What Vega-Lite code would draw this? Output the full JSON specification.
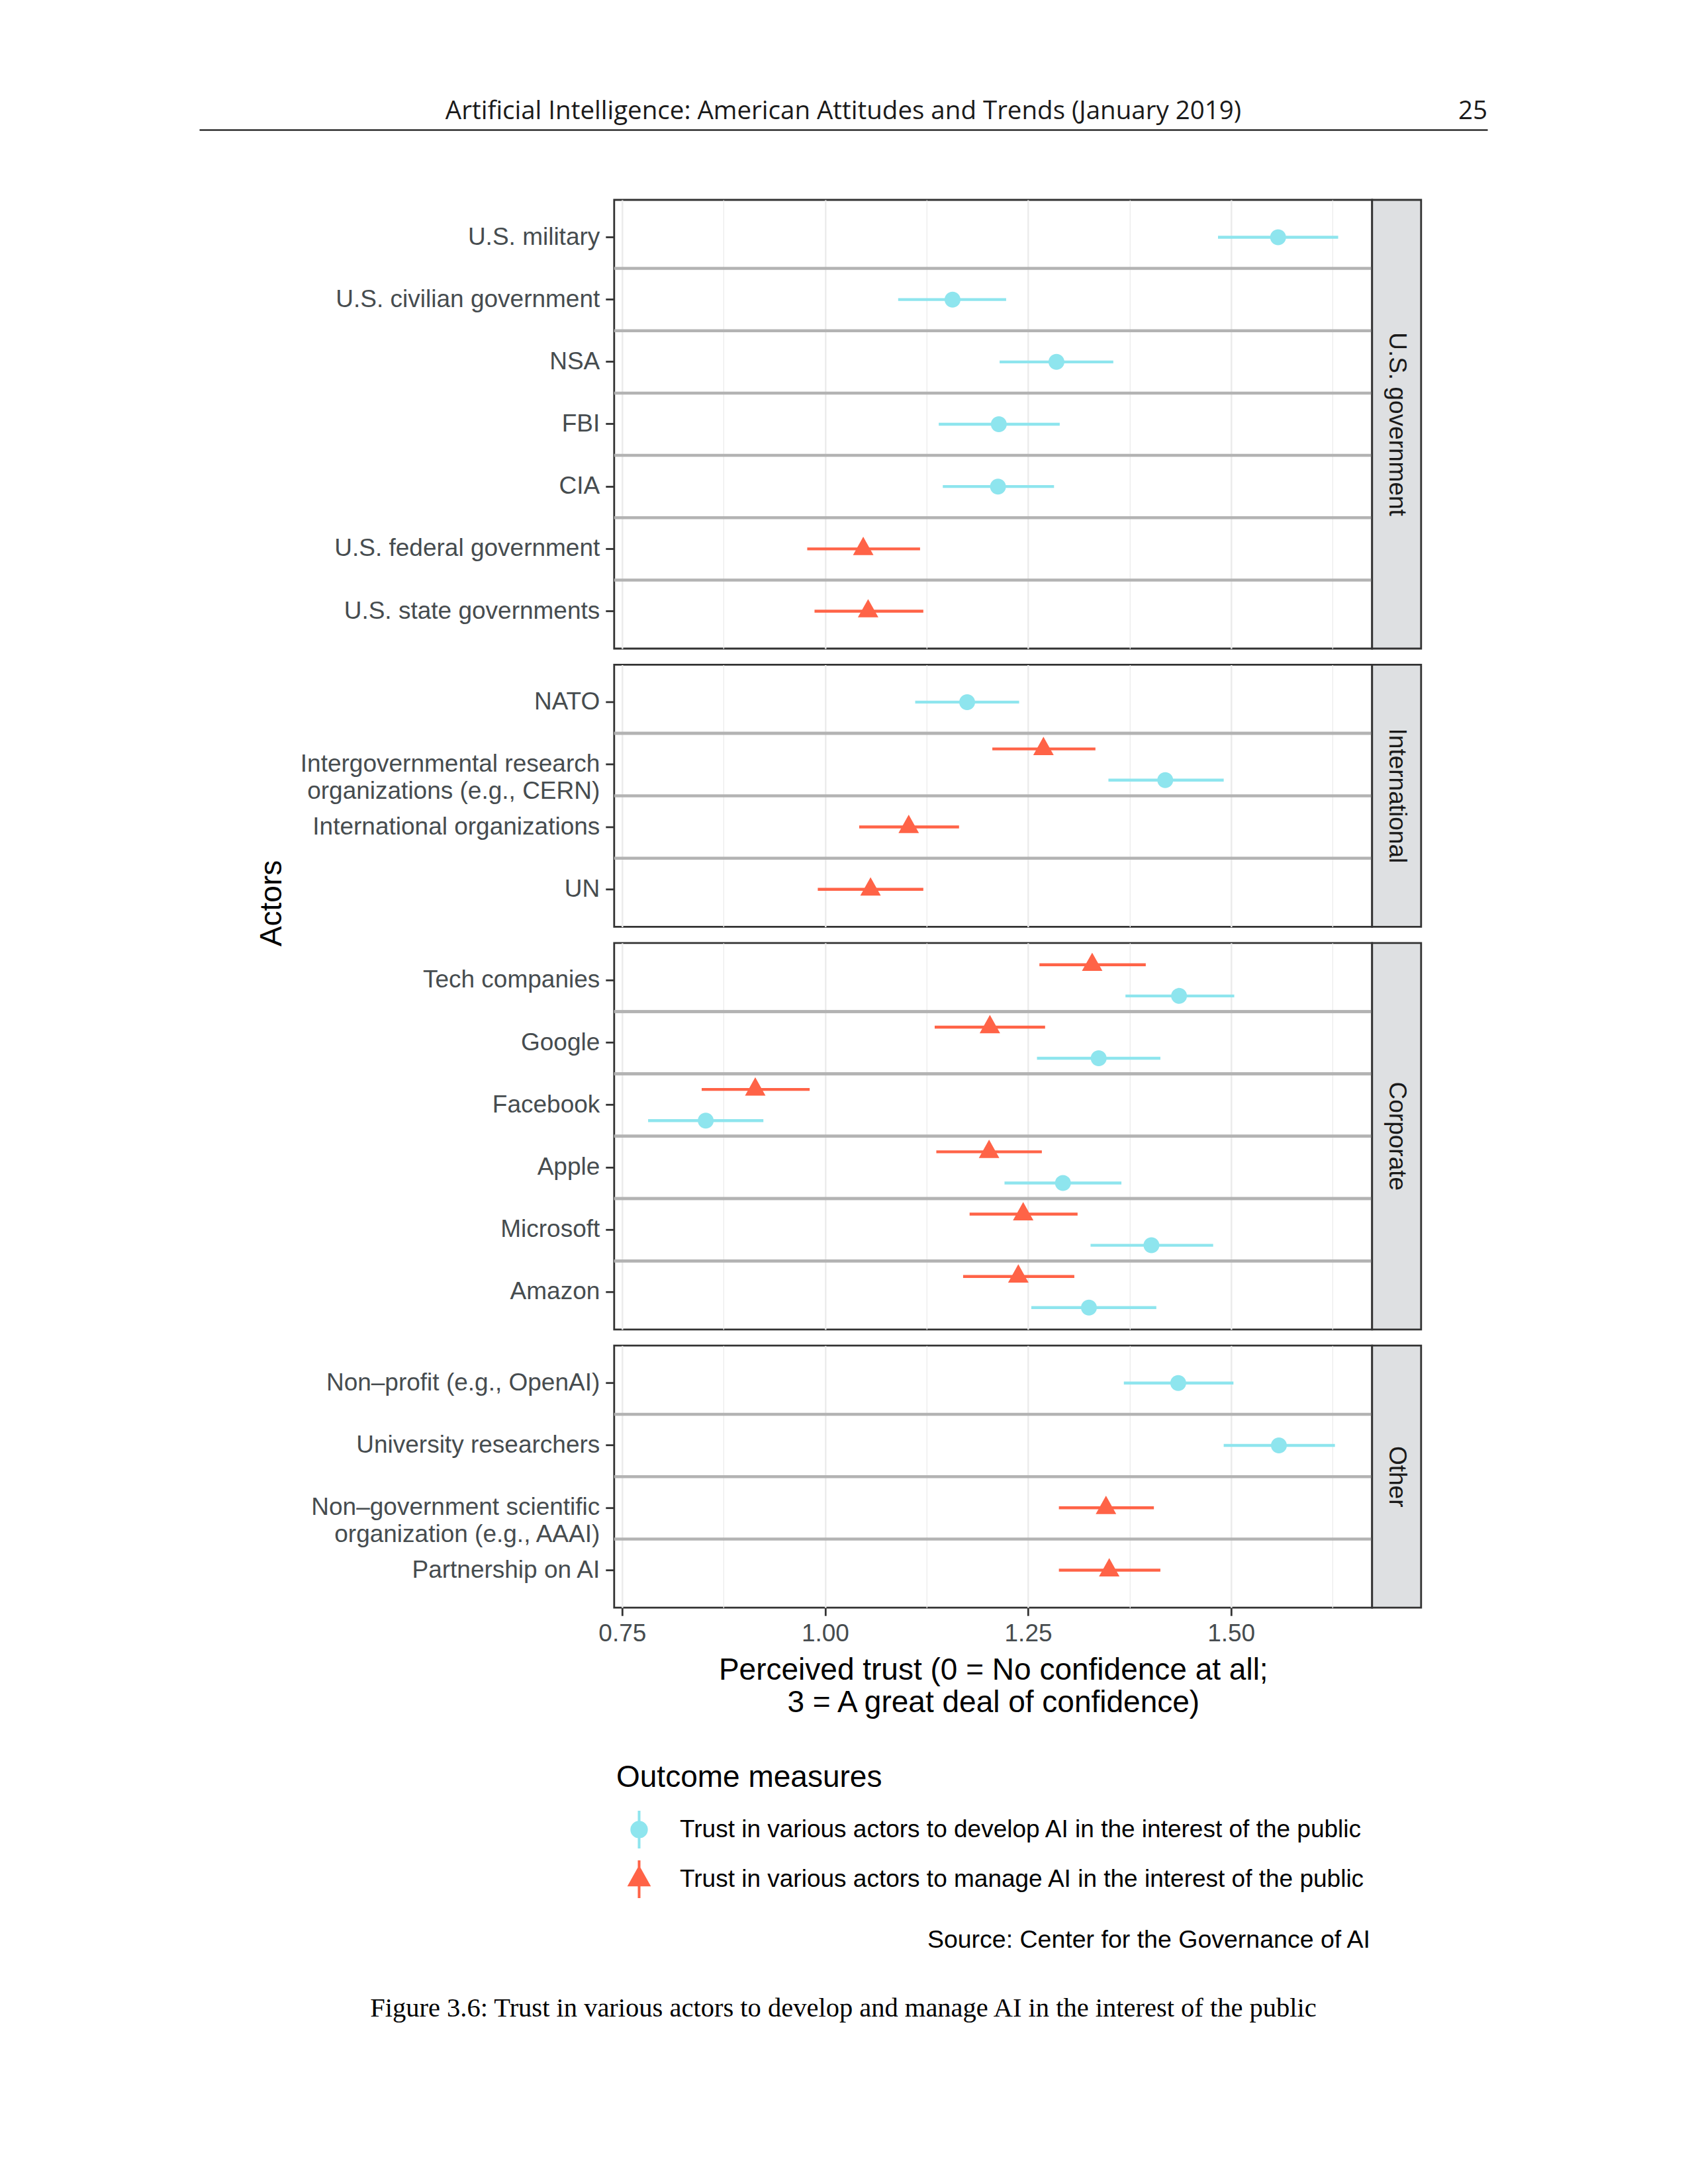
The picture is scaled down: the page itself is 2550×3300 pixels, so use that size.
{
  "$schema": "https://vega.github.io/schema/vega-lite/v6.json",
  "background": "white",
  "padding": {"left": 301, "top": 140, "right": 0, "bottom": 10},
  "spacing": 104,
  "center": true,
  "datasets": {
    "trust": [
      {"group": "U.S. government", "actor": "U.S. military", "measure": "Trust in various actors to develop AI in the interest of the public", "est": 1.558, "lo": 1.484, "hi": 1.632},
      {"group": "U.S. government", "actor": "U.S. civilian government", "measure": "Trust in various actors to develop AI in the interest of the public", "est": 1.157, "lo": 1.090, "hi": 1.223},
      {"group": "U.S. government", "actor": "NSA", "measure": "Trust in various actors to develop AI in the interest of the public", "est": 1.285, "lo": 1.215, "hi": 1.355},
      {"group": "U.S. government", "actor": "FBI", "measure": "Trust in various actors to develop AI in the interest of the public", "est": 1.214, "lo": 1.140, "hi": 1.289},
      {"group": "U.S. government", "actor": "CIA", "measure": "Trust in various actors to develop AI in the interest of the public", "est": 1.213, "lo": 1.145, "hi": 1.282},
      {"group": "U.S. government", "actor": "U.S. federal government", "measure": "Trust in various actors to manage AI in the interest of the public", "est": 1.047, "lo": 0.978, "hi": 1.117},
      {"group": "U.S. government", "actor": "U.S. state governments", "measure": "Trust in various actors to manage AI in the interest of the public", "est": 1.053, "lo": 0.987, "hi": 1.121},
      {"group": "International", "actor": "NATO", "measure": "Trust in various actors to develop AI in the interest of the public", "est": 1.175, "lo": 1.111, "hi": 1.239},
      {"group": "International", "actor": "Intergovernmental research\norganizations (e.g., CERN)", "measure": "Trust in various actors to manage AI in the interest of the public", "est": 1.269, "lo": 1.206, "hi": 1.333},
      {"group": "International", "actor": "Intergovernmental research\norganizations (e.g., CERN)", "measure": "Trust in various actors to develop AI in the interest of the public", "est": 1.419, "lo": 1.349, "hi": 1.491},
      {"group": "International", "actor": "International organizations", "measure": "Trust in various actors to manage AI in the interest of the public", "est": 1.103, "lo": 1.042, "hi": 1.165},
      {"group": "International", "actor": "UN", "measure": "Trust in various actors to manage AI in the interest of the public", "est": 1.056, "lo": 0.991, "hi": 1.121},
      {"group": "Corporate", "actor": "Tech companies", "measure": "Trust in various actors to manage AI in the interest of the public", "est": 1.329, "lo": 1.264, "hi": 1.395},
      {"group": "Corporate", "actor": "Tech companies", "measure": "Trust in various actors to develop AI in the interest of the public", "est": 1.436, "lo": 1.370, "hi": 1.504},
      {"group": "Corporate", "actor": "Google", "measure": "Trust in various actors to manage AI in the interest of the public", "est": 1.203, "lo": 1.135, "hi": 1.271},
      {"group": "Corporate", "actor": "Google", "measure": "Trust in various actors to develop AI in the interest of the public", "est": 1.337, "lo": 1.261, "hi": 1.413},
      {"group": "Corporate", "actor": "Facebook", "measure": "Trust in various actors to manage AI in the interest of the public", "est": 0.914, "lo": 0.848, "hi": 0.981},
      {"group": "Corporate", "actor": "Facebook", "measure": "Trust in various actors to develop AI in the interest of the public", "est": 0.853, "lo": 0.782, "hi": 0.924},
      {"group": "Corporate", "actor": "Apple", "measure": "Trust in various actors to manage AI in the interest of the public", "est": 1.202, "lo": 1.137, "hi": 1.267},
      {"group": "Corporate", "actor": "Apple", "measure": "Trust in various actors to develop AI in the interest of the public", "est": 1.293, "lo": 1.221, "hi": 1.365},
      {"group": "Corporate", "actor": "Microsoft", "measure": "Trust in various actors to manage AI in the interest of the public", "est": 1.244, "lo": 1.178, "hi": 1.311},
      {"group": "Corporate", "actor": "Microsoft", "measure": "Trust in various actors to develop AI in the interest of the public", "est": 1.402, "lo": 1.327, "hi": 1.478},
      {"group": "Corporate", "actor": "Amazon", "measure": "Trust in various actors to manage AI in the interest of the public", "est": 1.238, "lo": 1.170, "hi": 1.307},
      {"group": "Corporate", "actor": "Amazon", "measure": "Trust in various actors to develop AI in the interest of the public", "est": 1.325, "lo": 1.254, "hi": 1.408},
      {"group": "Other", "actor": "Non–profit (e.g., OpenAI)", "measure": "Trust in various actors to develop AI in the interest of the public", "est": 1.435, "lo": 1.368, "hi": 1.503},
      {"group": "Other", "actor": "University researchers", "measure": "Trust in various actors to develop AI in the interest of the public", "est": 1.559, "lo": 1.491, "hi": 1.628},
      {"group": "Other", "actor": "Non–government scientific\norganization (e.g., AAAI)", "measure": "Trust in various actors to manage AI in the interest of the public", "est": 1.346, "lo": 1.288, "hi": 1.405},
      {"group": "Other", "actor": "Partnership on AI", "measure": "Trust in various actors to manage AI in the interest of the public", "est": 1.350, "lo": 1.288, "hi": 1.413}
    ]
  },
  "vconcat": [
    {
      "width": 2474,
      "height": 56,
      "view": {"stroke": null},
      "data": {"values": [{"title": "Artificial Intelligence: American Attitudes and Trends (January 2019)", "page": "25"}]},
      "layer": [
        {
          "mark": {"type": "text", "font": "Open Sans", "fontSize": 38.5, "color": "#1a1a1a", "align": "center", "baseline": "middle"},
          "encoding": {
            "text": {"field": "title", "type": "nominal"},
            "x": {"field": "title", "type": "nominal", "scale": {"type": "point", "padding": 0, "align": 0.5, "range": [0, 1946]},
                  "axis": {"orient": "bottom", "domain": true, "domainColor": "#000000", "domainWidth": 2.2, "ticks": false, "labels": false, "title": null, "grid": false}}
          }
        },
        {
          "mark": {"type": "text", "font": "Open Sans", "fontSize": 38.5, "color": "#1a1a1a", "align": "right", "baseline": "middle"},
          "encoding": {
            "text": {"field": "page", "type": "nominal"},
            "x": {"field": "page", "type": "nominal", "scale": {"type": "point", "padding": 0, "align": 1, "range": [0, 1946]}, "axis": null}
          }
        }
      ],
      "resolve": {"scale": {"x": "independent"}, "axis": {"x": "independent"}}
    },
    {
      "columns": 2,
      "align": "each",
      "bounds": "flush",
      "spacing": {"row": 24.4, "column": 0},
      "concat": [
        {
          "width": 1145, "height": 678,
          "view": {"stroke": "#333333", "strokeWidth": 2.8},
          "data": {"name": "trust"},
          "transform": [
            {"filter": "datum.group === 'U.S. government'"},
            {"joinaggregate": [{"op": "count", "as": "n"}], "groupby": ["actor"]},
            {"calculate": "datum.n > 1 ? datum.measure : 'single'", "as": "slot"}
          ],
          "layer": [
            {
              "transform": [{"filter": "datum.actor !== 'U.S. military'"}],
              "mark": {"type": "rule", "color": "#b3b3b3", "strokeWidth": 4.5},
              "encoding": {
                "y": {"field": "actor", "type": "nominal", "bandPosition": 0,
                      "scale": {"domain": ["U.S. military", "U.S. civilian government", "NSA", "FBI", "CIA", "U.S. federal government", "U.S. state governments"], "paddingInner": 0, "paddingOuter": 0.1},
                      "axis": {"title": null, "labelFontSize": 37, "labelColor": "#464c4f", "labelPadding": 9, "tickSize": 13, "tickWidth": 2.8, "tickColor": "#333333", "labelLimit": 1000, "labelExpr": "split(datum.label, '\\n')", "labelLineHeight": 41, "domain": false, "grid": false}}
              }
            },
            {
              "mark": {"type": "rule", "strokeWidth": 4.4},
              "encoding": {
                "y": {"field": "actor", "type": "nominal",
                      "scale": {"domain": ["U.S. military", "U.S. civilian government", "NSA", "FBI", "CIA", "U.S. federal government", "U.S. state governments"], "paddingInner": 0, "paddingOuter": 0.1},
                      "axis": {"title": null, "labelFontSize": 37, "labelColor": "#464c4f", "labelPadding": 9, "tickSize": 13, "tickWidth": 2.8, "tickColor": "#333333", "labelLimit": 1000, "labelExpr": "split(datum.label, '\\n')", "labelLineHeight": 41, "domain": false, "grid": false}},
                "yOffset": {"field": "slot", "type": "nominal", "scale": {"type": "point", "padding": 1, "domain": ["Trust in various actors to manage AI in the interest of the public", "single", "Trust in various actors to develop AI in the interest of the public"]}},
                "x": {"field": "lo", "type": "quantitative", "scale": {"domain": [0.7402, 1.6738], "nice": false, "zero": false},
                      "axis": {"title": null, "values": [0.75, 0.875, 1, 1.125, 1.25, 1.375, 1.5, 1.625], "labels": false, "ticks": false, "domain": false, "grid": true, "gridColor": "#ebebeb", "gridWidth": {"condition": {"test": "datum.value % 0.25 === 0", "value": 2.4}, "value": 1.3}}},
                "x2": {"field": "hi"},
                "stroke": {"field": "measure", "type": "nominal", "scale": {"domain": ["Trust in various actors to manage AI in the interest of the public", "Trust in various actors to develop AI in the interest of the public"], "range": ["#FF6347", "#8EE5EE"]}, "legend": null}
              }
            },
            {
              "mark": {"type": "point", "filled": true, "size": 576, "opacity": 1},
              "encoding": {
                "y": {"field": "actor", "type": "nominal",
                      "scale": {"domain": ["U.S. military", "U.S. civilian government", "NSA", "FBI", "CIA", "U.S. federal government", "U.S. state governments"], "paddingInner": 0, "paddingOuter": 0.1},
                      "axis": {"title": null, "labelFontSize": 37, "labelColor": "#464c4f", "labelPadding": 9, "tickSize": 13, "tickWidth": 2.8, "tickColor": "#333333", "labelLimit": 1000, "labelExpr": "split(datum.label, '\\n')", "labelLineHeight": 41, "domain": false, "grid": false}},
                "yOffset": {"field": "slot", "type": "nominal", "scale": {"type": "point", "padding": 1, "domain": ["Trust in various actors to manage AI in the interest of the public", "single", "Trust in various actors to develop AI in the interest of the public"]}},
                "x": {"field": "est", "type": "quantitative", "scale": {"domain": [0.7402, 1.6738], "nice": false, "zero": false},
                      "axis": {"title": null, "values": [0.75, 0.875, 1, 1.125, 1.25, 1.375, 1.5, 1.625], "labels": false, "ticks": false, "domain": false, "grid": true, "gridColor": "#ebebeb", "gridWidth": {"condition": {"test": "datum.value % 0.25 === 0", "value": 2.4}, "value": 1.3}}},
                "color": {"field": "measure", "type": "nominal", "scale": {"domain": ["Trust in various actors to develop AI in the interest of the public", "Trust in various actors to manage AI in the interest of the public"], "range": ["#8EE5EE", "#FF6347"]},
                          "legend": {"orient": "none", "legendX": 630, "legendY": 2524, "title": "Outcome measures", "direction": "vertical", "symbolStrokeColor": {"expr": "scale('color', datum.value)"}, "symbolStrokeWidth": 4}},
                "shape": {"field": "measure", "type": "nominal", "scale": {"domain": ["Trust in various actors to develop AI in the interest of the public", "Trust in various actors to manage AI in the interest of the public"], "range": ["M-1,0A1,1,0,1,1,1,0A1,1,0,1,1,-1,0ZM0,-2.55L0,2.55", "M0,-1.53L1.29,0.78L-1.29,0.78ZM0,-2.55L0,2.55"]},
                          "legend": {"orient": "none", "legendX": 630, "legendY": 2524, "title": "Outcome measures", "direction": "vertical", "symbolStrokeColor": {"expr": "scale('color', datum.value)"}, "symbolStrokeWidth": 4}}
              }
            }
          ]
        },
        {
          "width": 74, "height": 678,
          "view": {"fill": "#dee0e2", "stroke": "#333333", "strokeWidth": 2.8},
          "data": {"name": "trust"},
          "transform": [{"filter": "datum.group === 'U.S. government'"}, {"aggregate": [{"op": "count", "as": "n"}], "groupby": ["group"]}],
          "mark": {"type": "text", "angle": 90, "fontSize": 37, "font": "Liberation Sans", "color": "#1a1a1a", "align": "center", "baseline": "middle"},
          "encoding": {"text": {"field": "group", "type": "nominal"}}
        },
        {
          "width": 1145, "height": 396,
          "view": {"stroke": "#333333", "strokeWidth": 2.8},
          "data": {"name": "trust"},
          "transform": [
            {"filter": "datum.group === 'International'"},
            {"joinaggregate": [{"op": "count", "as": "n"}], "groupby": ["actor"]},
            {"calculate": "datum.n > 1 ? datum.measure : 'single'", "as": "slot"}
          ],
          "layer": [
            {
              "transform": [{"filter": "datum.actor !== 'NATO'"}],
              "mark": {"type": "rule", "color": "#b3b3b3", "strokeWidth": 4.5},
              "encoding": {
                "y": {"field": "actor", "type": "nominal", "bandPosition": 0,
                      "scale": {"domain": ["NATO", "Intergovernmental research\norganizations (e.g., CERN)", "International organizations", "UN"], "paddingInner": 0, "paddingOuter": 0.1},
                      "axis": {"title": "Actors", "titleFontSize": 46, "titleColor": "#000000", "titleFontWeight": "normal", "titleAngle": 270, "titleX": -503, "titleY": 360, "titleBaseline": "alphabetic", "titleAlign": "center", "labelFontSize": 37, "labelColor": "#464c4f", "labelPadding": 9, "tickSize": 13, "tickWidth": 2.8, "tickColor": "#333333", "labelLimit": 1000, "labelExpr": "split(datum.label, '\\n')", "labelLineHeight": 41, "domain": false, "grid": false}}
              }
            },
            {
              "mark": {"type": "rule", "strokeWidth": 4.4},
              "encoding": {
                "y": {"field": "actor", "type": "nominal",
                      "scale": {"domain": ["NATO", "Intergovernmental research\norganizations (e.g., CERN)", "International organizations", "UN"], "paddingInner": 0, "paddingOuter": 0.1},
                      "axis": {"title": "Actors", "titleFontSize": 46, "titleColor": "#000000", "titleFontWeight": "normal", "titleAngle": 270, "titleX": -503, "titleY": 360, "titleBaseline": "alphabetic", "titleAlign": "center", "labelFontSize": 37, "labelColor": "#464c4f", "labelPadding": 9, "tickSize": 13, "tickWidth": 2.8, "tickColor": "#333333", "labelLimit": 1000, "labelExpr": "split(datum.label, '\\n')", "labelLineHeight": 41, "domain": false, "grid": false}},
                "yOffset": {"field": "slot", "type": "nominal", "scale": {"type": "point", "padding": 1, "domain": ["Trust in various actors to manage AI in the interest of the public", "single", "Trust in various actors to develop AI in the interest of the public"]}},
                "x": {"field": "lo", "type": "quantitative", "scale": {"domain": [0.7402, 1.6738], "nice": false, "zero": false},
                      "axis": {"title": null, "values": [0.75, 0.875, 1, 1.125, 1.25, 1.375, 1.5, 1.625], "labels": false, "ticks": false, "domain": false, "grid": true, "gridColor": "#ebebeb", "gridWidth": {"condition": {"test": "datum.value % 0.25 === 0", "value": 2.4}, "value": 1.3}}},
                "x2": {"field": "hi"},
                "stroke": {"field": "measure", "type": "nominal", "scale": {"domain": ["Trust in various actors to manage AI in the interest of the public", "Trust in various actors to develop AI in the interest of the public"], "range": ["#FF6347", "#8EE5EE"]}, "legend": null}
              }
            },
            {
              "mark": {"type": "point", "filled": true, "size": 576, "opacity": 1},
              "encoding": {
                "y": {"field": "actor", "type": "nominal",
                      "scale": {"domain": ["NATO", "Intergovernmental research\norganizations (e.g., CERN)", "International organizations", "UN"], "paddingInner": 0, "paddingOuter": 0.1},
                      "axis": {"title": "Actors", "titleFontSize": 46, "titleColor": "#000000", "titleFontWeight": "normal", "titleAngle": 270, "titleX": -503, "titleY": 360, "titleBaseline": "alphabetic", "titleAlign": "center", "labelFontSize": 37, "labelColor": "#464c4f", "labelPadding": 9, "tickSize": 13, "tickWidth": 2.8, "tickColor": "#333333", "labelLimit": 1000, "labelExpr": "split(datum.label, '\\n')", "labelLineHeight": 41, "domain": false, "grid": false}},
                "yOffset": {"field": "slot", "type": "nominal", "scale": {"type": "point", "padding": 1, "domain": ["Trust in various actors to manage AI in the interest of the public", "single", "Trust in various actors to develop AI in the interest of the public"]}},
                "x": {"field": "est", "type": "quantitative", "scale": {"domain": [0.7402, 1.6738], "nice": false, "zero": false},
                      "axis": {"title": null, "values": [0.75, 0.875, 1, 1.125, 1.25, 1.375, 1.5, 1.625], "labels": false, "ticks": false, "domain": false, "grid": true, "gridColor": "#ebebeb", "gridWidth": {"condition": {"test": "datum.value % 0.25 === 0", "value": 2.4}, "value": 1.3}}},
                "color": {"field": "measure", "type": "nominal", "scale": {"domain": ["Trust in various actors to develop AI in the interest of the public", "Trust in various actors to manage AI in the interest of the public"], "range": ["#8EE5EE", "#FF6347"]},
                          "legend": {"orient": "none", "legendX": 630, "legendY": 2524, "title": "Outcome measures", "direction": "vertical", "symbolStrokeColor": {"expr": "scale('color', datum.value)"}, "symbolStrokeWidth": 4}},
                "shape": {"field": "measure", "type": "nominal", "scale": {"domain": ["Trust in various actors to develop AI in the interest of the public", "Trust in various actors to manage AI in the interest of the public"], "range": ["M-1,0A1,1,0,1,1,1,0A1,1,0,1,1,-1,0ZM0,-2.55L0,2.55", "M0,-1.53L1.29,0.78L-1.29,0.78ZM0,-2.55L0,2.55"]},
                          "legend": {"orient": "none", "legendX": 630, "legendY": 2524, "title": "Outcome measures", "direction": "vertical", "symbolStrokeColor": {"expr": "scale('color', datum.value)"}, "symbolStrokeWidth": 4}}
              }
            }
          ]
        },
        {
          "width": 74, "height": 396,
          "view": {"fill": "#dee0e2", "stroke": "#333333", "strokeWidth": 2.8},
          "data": {"name": "trust"},
          "transform": [{"filter": "datum.group === 'International'"}, {"aggregate": [{"op": "count", "as": "n"}], "groupby": ["group"]}],
          "mark": {"type": "text", "angle": 90, "fontSize": 37, "font": "Liberation Sans", "color": "#1a1a1a", "align": "center", "baseline": "middle"},
          "encoding": {"text": {"field": "group", "type": "nominal"}}
        },
        {
          "width": 1145, "height": 584,
          "view": {"stroke": "#333333", "strokeWidth": 2.8},
          "data": {"name": "trust"},
          "transform": [
            {"filter": "datum.group === 'Corporate'"},
            {"joinaggregate": [{"op": "count", "as": "n"}], "groupby": ["actor"]},
            {"calculate": "datum.n > 1 ? datum.measure : 'single'", "as": "slot"}
          ],
          "layer": [
            {
              "transform": [{"filter": "datum.actor !== 'Tech companies'"}],
              "mark": {"type": "rule", "color": "#b3b3b3", "strokeWidth": 4.5},
              "encoding": {
                "y": {"field": "actor", "type": "nominal", "bandPosition": 0,
                      "scale": {"domain": ["Tech companies", "Google", "Facebook", "Apple", "Microsoft", "Amazon"], "paddingInner": 0, "paddingOuter": 0.1},
                      "axis": {"title": null, "labelFontSize": 37, "labelColor": "#464c4f", "labelPadding": 9, "tickSize": 13, "tickWidth": 2.8, "tickColor": "#333333", "labelLimit": 1000, "labelExpr": "split(datum.label, '\\n')", "labelLineHeight": 41, "domain": false, "grid": false}}
              }
            },
            {
              "mark": {"type": "rule", "strokeWidth": 4.4},
              "encoding": {
                "y": {"field": "actor", "type": "nominal",
                      "scale": {"domain": ["Tech companies", "Google", "Facebook", "Apple", "Microsoft", "Amazon"], "paddingInner": 0, "paddingOuter": 0.1},
                      "axis": {"title": null, "labelFontSize": 37, "labelColor": "#464c4f", "labelPadding": 9, "tickSize": 13, "tickWidth": 2.8, "tickColor": "#333333", "labelLimit": 1000, "labelExpr": "split(datum.label, '\\n')", "labelLineHeight": 41, "domain": false, "grid": false}},
                "yOffset": {"field": "slot", "type": "nominal", "scale": {"type": "point", "padding": 1, "domain": ["Trust in various actors to manage AI in the interest of the public", "single", "Trust in various actors to develop AI in the interest of the public"]}},
                "x": {"field": "lo", "type": "quantitative", "scale": {"domain": [0.7402, 1.6738], "nice": false, "zero": false},
                      "axis": {"title": null, "values": [0.75, 0.875, 1, 1.125, 1.25, 1.375, 1.5, 1.625], "labels": false, "ticks": false, "domain": false, "grid": true, "gridColor": "#ebebeb", "gridWidth": {"condition": {"test": "datum.value % 0.25 === 0", "value": 2.4}, "value": 1.3}}},
                "x2": {"field": "hi"},
                "stroke": {"field": "measure", "type": "nominal", "scale": {"domain": ["Trust in various actors to manage AI in the interest of the public", "Trust in various actors to develop AI in the interest of the public"], "range": ["#FF6347", "#8EE5EE"]}, "legend": null}
              }
            },
            {
              "mark": {"type": "point", "filled": true, "size": 576, "opacity": 1},
              "encoding": {
                "y": {"field": "actor", "type": "nominal",
                      "scale": {"domain": ["Tech companies", "Google", "Facebook", "Apple", "Microsoft", "Amazon"], "paddingInner": 0, "paddingOuter": 0.1},
                      "axis": {"title": null, "labelFontSize": 37, "labelColor": "#464c4f", "labelPadding": 9, "tickSize": 13, "tickWidth": 2.8, "tickColor": "#333333", "labelLimit": 1000, "labelExpr": "split(datum.label, '\\n')", "labelLineHeight": 41, "domain": false, "grid": false}},
                "yOffset": {"field": "slot", "type": "nominal", "scale": {"type": "point", "padding": 1, "domain": ["Trust in various actors to manage AI in the interest of the public", "single", "Trust in various actors to develop AI in the interest of the public"]}},
                "x": {"field": "est", "type": "quantitative", "scale": {"domain": [0.7402, 1.6738], "nice": false, "zero": false},
                      "axis": {"title": null, "values": [0.75, 0.875, 1, 1.125, 1.25, 1.375, 1.5, 1.625], "labels": false, "ticks": false, "domain": false, "grid": true, "gridColor": "#ebebeb", "gridWidth": {"condition": {"test": "datum.value % 0.25 === 0", "value": 2.4}, "value": 1.3}}},
                "color": {"field": "measure", "type": "nominal", "scale": {"domain": ["Trust in various actors to develop AI in the interest of the public", "Trust in various actors to manage AI in the interest of the public"], "range": ["#8EE5EE", "#FF6347"]},
                          "legend": {"orient": "none", "legendX": 630, "legendY": 2524, "title": "Outcome measures", "direction": "vertical", "symbolStrokeColor": {"expr": "scale('color', datum.value)"}, "symbolStrokeWidth": 4}},
                "shape": {"field": "measure", "type": "nominal", "scale": {"domain": ["Trust in various actors to develop AI in the interest of the public", "Trust in various actors to manage AI in the interest of the public"], "range": ["M-1,0A1,1,0,1,1,1,0A1,1,0,1,1,-1,0ZM0,-2.55L0,2.55", "M0,-1.53L1.29,0.78L-1.29,0.78ZM0,-2.55L0,2.55"]},
                          "legend": {"orient": "none", "legendX": 630, "legendY": 2524, "title": "Outcome measures", "direction": "vertical", "symbolStrokeColor": {"expr": "scale('color', datum.value)"}, "symbolStrokeWidth": 4}}
              }
            }
          ]
        },
        {
          "width": 74, "height": 584,
          "view": {"fill": "#dee0e2", "stroke": "#333333", "strokeWidth": 2.8},
          "data": {"name": "trust"},
          "transform": [{"filter": "datum.group === 'Corporate'"}, {"aggregate": [{"op": "count", "as": "n"}], "groupby": ["group"]}],
          "mark": {"type": "text", "angle": 90, "fontSize": 37, "font": "Liberation Sans", "color": "#1a1a1a", "align": "center", "baseline": "middle"},
          "encoding": {"text": {"field": "group", "type": "nominal"}}
        },
        {
          "width": 1145, "height": 396,
          "view": {"stroke": "#333333", "strokeWidth": 2.8},
          "data": {"name": "trust"},
          "transform": [
            {"filter": "datum.group === 'Other'"},
            {"joinaggregate": [{"op": "count", "as": "n"}], "groupby": ["actor"]},
            {"calculate": "datum.n > 1 ? datum.measure : 'single'", "as": "slot"}
          ],
          "layer": [
            {
              "transform": [{"filter": "datum.actor !== 'Non–profit (e.g., OpenAI)'"}],
              "mark": {"type": "rule", "color": "#b3b3b3", "strokeWidth": 4.5},
              "encoding": {
                "y": {"field": "actor", "type": "nominal", "bandPosition": 0,
                      "scale": {"domain": ["Non–profit (e.g., OpenAI)", "University researchers", "Non–government scientific\norganization (e.g., AAAI)", "Partnership on AI"], "paddingInner": 0, "paddingOuter": 0.1},
                      "axis": {"title": null, "labelFontSize": 37, "labelColor": "#464c4f", "labelPadding": 9, "tickSize": 13, "tickWidth": 2.8, "tickColor": "#333333", "labelLimit": 1000, "labelExpr": "split(datum.label, '\\n')", "labelLineHeight": 41, "domain": false, "grid": false}}
              }
            },
            {
              "mark": {"type": "rule", "strokeWidth": 4.4},
              "encoding": {
                "y": {"field": "actor", "type": "nominal",
                      "scale": {"domain": ["Non–profit (e.g., OpenAI)", "University researchers", "Non–government scientific\norganization (e.g., AAAI)", "Partnership on AI"], "paddingInner": 0, "paddingOuter": 0.1},
                      "axis": {"title": null, "labelFontSize": 37, "labelColor": "#464c4f", "labelPadding": 9, "tickSize": 13, "tickWidth": 2.8, "tickColor": "#333333", "labelLimit": 1000, "labelExpr": "split(datum.label, '\\n')", "labelLineHeight": 41, "domain": false, "grid": false}},
                "yOffset": {"field": "slot", "type": "nominal", "scale": {"type": "point", "padding": 1, "domain": ["Trust in various actors to manage AI in the interest of the public", "single", "Trust in various actors to develop AI in the interest of the public"]}},
                "x": {"field": "lo", "type": "quantitative", "scale": {"domain": [0.7402, 1.6738], "nice": false, "zero": false},
                      "axis": {"title": ["Perceived trust (0 = No confidence at all;", "3 = A great deal of confidence)"], "titleFontSize": 46, "titleColor": "#000000", "titleFontWeight": "normal", "titlePadding": 15, "titleLineHeight": 49, "values": [0.75, 0.875, 1, 1.125, 1.25, 1.375, 1.5, 1.625], "labelExpr": "datum.value % 0.25 === 0 ? format(datum.value, '.2f') : ''", "labelFontSize": 37, "labelColor": "#464c4f", "labelPadding": 9, "labelFlush": false, "labelOverlap": false, "ticks": true, "tickSize": 12, "tickWidth": 2.8, "tickColor": "#333333", "tickOpacity": {"condition": {"test": "datum.value % 0.25 === 0", "value": 1}, "value": 0}, "domain": false, "grid": true, "gridColor": "#ebebeb", "gridWidth": {"condition": {"test": "datum.value % 0.25 === 0", "value": 2.4}, "value": 1.3}}},
                "x2": {"field": "hi"},
                "stroke": {"field": "measure", "type": "nominal", "scale": {"domain": ["Trust in various actors to manage AI in the interest of the public", "Trust in various actors to develop AI in the interest of the public"], "range": ["#FF6347", "#8EE5EE"]}, "legend": null}
              }
            },
            {
              "mark": {"type": "point", "filled": true, "size": 576, "opacity": 1},
              "encoding": {
                "y": {"field": "actor", "type": "nominal",
                      "scale": {"domain": ["Non–profit (e.g., OpenAI)", "University researchers", "Non–government scientific\norganization (e.g., AAAI)", "Partnership on AI"], "paddingInner": 0, "paddingOuter": 0.1},
                      "axis": {"title": null, "labelFontSize": 37, "labelColor": "#464c4f", "labelPadding": 9, "tickSize": 13, "tickWidth": 2.8, "tickColor": "#333333", "labelLimit": 1000, "labelExpr": "split(datum.label, '\\n')", "labelLineHeight": 41, "domain": false, "grid": false}},
                "yOffset": {"field": "slot", "type": "nominal", "scale": {"type": "point", "padding": 1, "domain": ["Trust in various actors to manage AI in the interest of the public", "single", "Trust in various actors to develop AI in the interest of the public"]}},
                "x": {"field": "est", "type": "quantitative", "scale": {"domain": [0.7402, 1.6738], "nice": false, "zero": false},
                      "axis": {"title": ["Perceived trust (0 = No confidence at all;", "3 = A great deal of confidence)"], "titleFontSize": 46, "titleColor": "#000000", "titleFontWeight": "normal", "titlePadding": 15, "titleLineHeight": 49, "values": [0.75, 0.875, 1, 1.125, 1.25, 1.375, 1.5, 1.625], "labelExpr": "datum.value % 0.25 === 0 ? format(datum.value, '.2f') : ''", "labelFontSize": 37, "labelColor": "#464c4f", "labelPadding": 9, "labelFlush": false, "labelOverlap": false, "ticks": true, "tickSize": 12, "tickWidth": 2.8, "tickColor": "#333333", "tickOpacity": {"condition": {"test": "datum.value % 0.25 === 0", "value": 1}, "value": 0}, "domain": false, "grid": true, "gridColor": "#ebebeb", "gridWidth": {"condition": {"test": "datum.value % 0.25 === 0", "value": 2.4}, "value": 1.3}}},
                "color": {"field": "measure", "type": "nominal", "scale": {"domain": ["Trust in various actors to develop AI in the interest of the public", "Trust in various actors to manage AI in the interest of the public"], "range": ["#8EE5EE", "#FF6347"]},
                          "legend": {"orient": "none", "legendX": 630, "legendY": 2524, "title": "Outcome measures", "direction": "vertical", "symbolStrokeColor": {"expr": "scale('color', datum.value)"}, "symbolStrokeWidth": 4}},
                "shape": {"field": "measure", "type": "nominal", "scale": {"domain": ["Trust in various actors to develop AI in the interest of the public", "Trust in various actors to manage AI in the interest of the public"], "range": ["M-1,0A1,1,0,1,1,1,0A1,1,0,1,1,-1,0ZM0,-2.55L0,2.55", "M0,-1.53L1.29,0.78L-1.29,0.78ZM0,-2.55L0,2.55"]},
                          "legend": {"orient": "none", "legendX": 630, "legendY": 2524, "title": "Outcome measures", "direction": "vertical", "symbolStrokeColor": {"expr": "scale('color', datum.value)"}, "symbolStrokeWidth": 4}}
              }
            }
          ]
        },
        {
          "width": 74, "height": 396,
          "view": {"fill": "#dee0e2", "stroke": "#333333", "strokeWidth": 2.8},
          "data": {"name": "trust"},
          "transform": [{"filter": "datum.group === 'Other'"}, {"aggregate": [{"op": "count", "as": "n"}], "groupby": ["group"]}],
          "mark": {"type": "text", "angle": 90, "fontSize": 37, "font": "Liberation Sans", "color": "#1a1a1a", "align": "center", "baseline": "middle"},
          "encoding": {"text": {"field": "group", "type": "nominal"}}
        }
      ]
    },
    {
      "width": 2474,
      "height": 334,
      "view": {"stroke": null},
      "data": {"values": [{"source": "Source: Center for the Governance of AI", "caption": "Figure 3.6: Trust in various actors to develop and manage AI in the interest of the public"}]},
      "layer": [
        {
          "mark": {"type": "text", "font": "Liberation Sans", "fontSize": 37.5, "color": "#000000", "align": "right", "baseline": "middle"},
          "encoding": {
            "text": {"field": "source", "type": "nominal"},
            "x": {"field": "source", "type": "nominal", "scale": {"type": "point", "padding": 0, "align": 1, "range": [0, 1769]}, "axis": null},
            "y": {"field": "source", "type": "nominal", "scale": {"type": "point", "padding": 0, "align": 0.692}, "axis": null}
          }
        },
        {
          "mark": {"type": "text", "font": "Liberation Serif", "fontSize": 40.5, "color": "#000000", "align": "center", "baseline": "middle"},
          "encoding": {
            "text": {"field": "caption", "type": "nominal"},
            "x": {"field": "caption", "type": "nominal", "scale": {"type": "point", "padding": 0, "align": 0.5, "range": [0, 1946]}, "axis": null},
            "y": {"field": "caption", "type": "nominal", "scale": {"type": "point", "padding": 0, "align": 1}, "axis": null}
          }
        }
      ],
      "resolve": {"scale": {"x": "independent", "y": "independent"}}
    }
  ],
  "config": {
    "font": "Liberation Sans",
    "view": {"stroke": null},
    "axis": {"labelFont": "Liberation Sans", "titleFont": "Liberation Sans", "domain": false, "grid": false},
    "legend": {
      "titleFont": "Liberation Sans", "titleFontSize": 46, "titleFontWeight": "normal", "titleColor": "#000000", "titleLimit": 2000,
      "labelFont": "Liberation Sans", "labelFontSize": 37, "labelColor": "#000000", "labelLimit": 2000,
      "symbolSize": 500, "symbolStrokeWidth": 4, "rowPadding": 0, "titlePadding": 36, "symbolOffset": 16, "labelOffset": 43, "padding": 0
    }
  }
}
